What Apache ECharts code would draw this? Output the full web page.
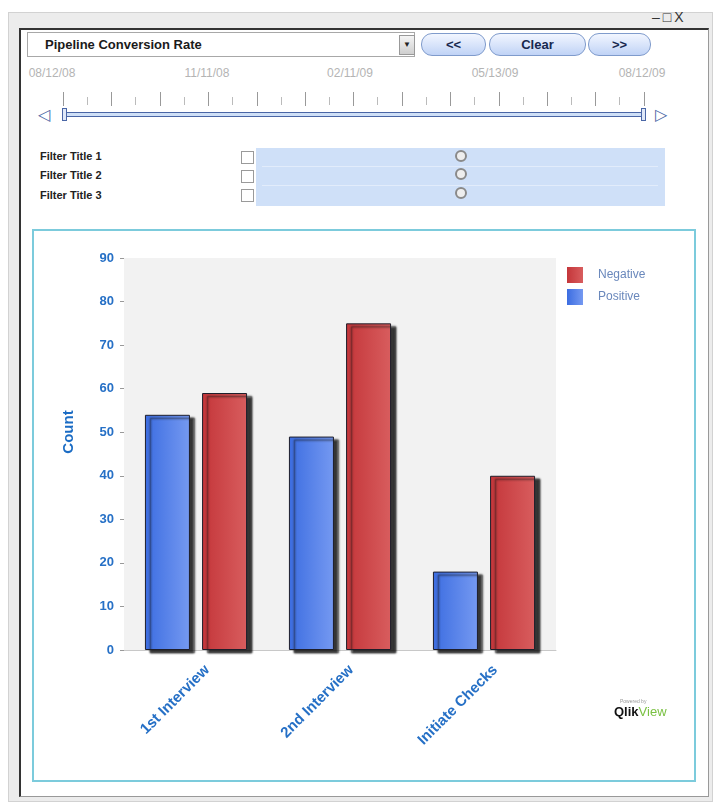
<!DOCTYPE html>
<html>
<head>
<meta charset="utf-8">
<script src="https://cdn.jsdelivr.net/npm/echarts@6/dist/echarts.min.js"></script>
<style>
  body { margin: 0; width: 718px; height: 805px; background: #fff; font-family: "Liberation Sans", Arial, sans-serif; position: relative; overflow: hidden; }
  .abs { position: absolute; }
  .outer { left: 8px; top: 12px; width: 703px; height: 788px; background: #ececec; border: 1px solid #d2d2d2; }
  .inner { left: 19px; top: 28px; width: 687px; height: 766px; background: #fff; border-top: 2px solid #333; border-left: 2px solid #333; border-right: 1px solid #999; border-bottom: 1px solid #999; }
  .winctl { left: 652px; top: 9px; font-size: 14px; color: #333; letter-spacing: 3px; }
  .dropdown { left: 27px; top: 32px; width: 386px; height: 23px; border: 1px solid #a8a8a8; background: #fff; }
  .dropdown span { position: absolute; left: 17px; top: 4px; font-size: 13px; font-weight: bold; color: #1a1a1a; }
  .ddarrow { left: 399px; top: 35px; width: 14px; height: 18px; background: linear-gradient(#f4f4f4, #cfcfcf); border: 1px solid #999; font-size: 8px; text-align: center; line-height: 18px; color: #222; }
  .btn { top: 33px; height: 21px; border: 1px solid #7f9bcc; border-radius: 11px; background: linear-gradient(#f2f6ff, #c0d3f6); font-size: 13px; font-weight: bold; color: #17284f; text-align: center; line-height: 21px; }
  .date { top: 66px; font-size: 12px; color: #b4b4b4; width: 60px; text-align: center; }
  .ticks { left: 63px; top: 92px; width: 584px; height: 14px;
    background: repeating-linear-gradient(90deg, #999 0 1px, transparent 1px 48.4px); }
  .ticks2 { left: 87px; top: 97px; width: 560px; height: 8px;
    background: repeating-linear-gradient(90deg, #bbb 0 1px, transparent 1px 48.4px); }
  .track { left: 66px; top: 112px; width: 578px; height: 3px; background: #cfe0f7; border: 1px solid #4a66a6; }
  .handle { top: 108px; width: 3px; height: 11px; background: #dfe8f8; border: 1px solid #4a66a6; }
  .arrow { top: 105px; font-size: 16px; color: #4a66a6; }
  .ftitle { left: 40px; font-size: 11px; font-weight: bold; color: #222; }
  .cb { left: 241px; width: 11px; height: 11px; border: 1px solid #9a9a9a; background: #fff; }
  .fband { left: 256px; top: 148px; width: 409px; height: 58px; background: #cfe0f8; }
  .fline { left: 262px; width: 396px; height: 1px; background: #e2ecfb; }
  .knob { left: 455px; width: 8px; height: 8px; border: 2px solid #8a8a8a; border-radius: 50%; background: #eee; }
  .chartbox { left: 32px; top: 229px; width: 660px; height: 549px; border: 2px solid #7ccbdc; background: #fff; }
  #chart { position: absolute; left: 0; top: 0; width: 660px; height: 549px; }
  .pow { left: 620px; top: 698px; font-size: 5px; color: #999; }
  .logo { left: 614px; top: 704px; font-size: 13px; font-weight: bold; color: #111; }
  .logo b { color: #7ac142; font-weight: normal; }
</style>
</head>
<body>
<div class="abs outer"></div>
<div class="abs winctl">–□X</div>
<div class="abs inner"></div>
<div class="abs dropdown"><span>Pipeline Conversion Rate</span></div>
<div class="abs ddarrow">▼</div>
<div class="abs btn" style="left:421px;width:63px;">&lt;&lt;</div>
<div class="abs btn" style="left:489px;width:95px;">Clear</div>
<div class="abs btn" style="left:588px;width:61px;">&gt;&gt;</div>

<div class="abs date" style="left:22px;">08/12/08</div>
<div class="abs date" style="left:177px;">11/11/08</div>
<div class="abs date" style="left:320px;">02/11/09</div>
<div class="abs date" style="left:465px;">05/13/09</div>
<div class="abs date" style="left:612px;">08/12/09</div>
<div class="abs ticks"></div>
<div class="abs ticks2"></div>
<div class="abs arrow" style="left:38px;">◁</div>
<div class="abs track"></div>
<div class="abs handle" style="left:62px;"></div>
<div class="abs handle" style="left:641px;"></div>
<div class="abs arrow" style="left:655px;">▷</div>

<div class="abs fband"></div>
<div class="abs fline" style="top:166px;"></div>
<div class="abs fline" style="top:185px;"></div>
<div class="abs ftitle" style="top:150px;">Filter Title 1</div>
<div class="abs ftitle" style="top:169px;">Filter Title 2</div>
<div class="abs ftitle" style="top:189px;">Filter Title 3</div>
<div class="abs cb" style="top:151px;"></div>
<div class="abs cb" style="top:170px;"></div>
<div class="abs cb" style="top:189px;"></div>
<div class="abs knob" style="top:150px;"></div>
<div class="abs knob" style="top:168px;"></div>
<div class="abs knob" style="top:187px;"></div>

<div class="abs chartbox"><div id="chart"></div></div>
<div class="abs pow">Powered by</div>
<div class="abs logo">Qlik<b>View</b></div>

<script>
var categories = ['1st Interview', '2nd Interview', 'Initiate Checks'];
var positive = [54, 49, 18];
var negative = [59, 75, 40];
var yTicks = [0, 10, 20, 30, 40, 50, 60, 70, 80, 90];

var labelBlue = '#2670c6';

function barStyle(c1, c2) {
  return {
    color: new echarts.graphic.LinearGradient(0, 0, 1, 0, [
      { offset: 0, color: c1 },
      { offset: 1, color: c2 }
    ]),
    borderColor: '#1e1e2a',
    borderWidth: 1,
    shadowColor: 'rgba(20, 20, 20, 0.85)',
    shadowBlur: 2,
    shadowOffsetX: 5,
    shadowOffsetY: 3
  };
}

var chart = echarts.init(document.getElementById('chart'));
chart.setOption({
  animation: false,
  grid: {
    left: 90,
    right: 138,
    top: 27,
    bottom: 130,
    show: true,
    backgroundColor: '#f2f2f2',
    borderWidth: 0
  },
  legend: {
    data: ['Negative', 'Positive'],
    orient: 'vertical',
    left: 533,
    top: 36,
    padding: 0,
    itemWidth: 16,
    itemHeight: 16,
    itemGap: 6,
    icon: 'rect',
    itemStyle: { borderWidth: 0, shadowBlur: 0, shadowOffsetX: 0, shadowOffsetY: 0 },
    textStyle: { color: '#6a88bc', fontSize: 12, padding: [0, 0, 0, 10] }
  },
  xAxis: {
    type: 'category',
    data: categories,
    axisLine: { lineStyle: { color: '#c8c8c8' } },
    axisTick: { show: false },
    axisLabel: {
      rotate: 45,
      margin: 29,
      padding: [0, -16, 0, 0],
      color: labelBlue,
      fontSize: 15,
      fontWeight: 'bold'
    }
  },
  yAxis: {
    type: 'value',
    min: yTicks[0],
    max: yTicks[yTicks.length - 1],
    interval: 10,
    name: 'Count',
    nameLocation: 'middle',
    nameGap: 48,
    nameTextStyle: { color: '#1b6cc4', fontSize: 15, fontWeight: 'bold', padding: [0, 0, 0, 44] },
    splitLine: { show: false },
    axisLine: { show: false },
    axisTick: { show: true, length: 4, lineStyle: { color: '#999' } },
    axisLabel: { color: labelBlue, fontSize: 13, fontWeight: 'bold', margin: 10 }
  },
  series: [
    {
      name: 'Positive',
      type: 'bar',
      data: positive,
      barWidth: 45,
      barGap: '27%',
      itemStyle: barStyle('#3c6de1', '#7599f1')
    },
    {
      name: 'Negative',
      type: 'bar',
      data: negative,
      barWidth: 45,
      itemStyle: barStyle('#c4363a', '#d85d5e')
    }
  ]
});
</script>
</body>
</html>
